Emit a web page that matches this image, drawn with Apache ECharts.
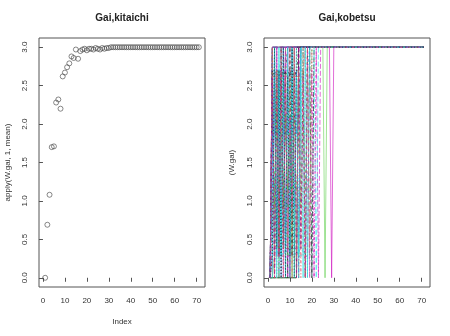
<!DOCTYPE html>
<html><head><meta charset="utf-8">
<script src="https://cdn.jsdelivr.net/npm/echarts@6/dist/echarts.min.js"></script>
<style>html,body{margin:0;padding:0;background:#fff}#c{width:450px;height:336px}</style>
</head><body><div id="c"></div><script>
// tick labels
const xTicks = [0, 10, 20, 30, 40, 50, 60, 70];
const yTicks = [0, 0.5, 1, 1.5, 2, 2.5, 3];
const lastRow = 71;

// left panel: apply(W.gai, 1, mean), rows 1..71
const meanValues = [
  0, 0.69, 1.08, 1.70, 1.71, 2.28, 2.32, 2.20, 2.62, 2.67,
  2.74, 2.79, 2.88, 2.86, 2.97, 2.85, 2.95, 2.97, 2.98, 2.96,
  2.98, 2.98, 2.97, 2.99, 2.98, 2.97, 2.99, 2.98, 2.99, 2.99,
  3, 3, 3, 3, 3, 3, 3, 3, 3, 3,
  3, 3, 3, 3, 3, 3, 3, 3, 3, 3,
  3, 3, 3, 3, 3, 3, 3, 3, 3, 3,
  3, 3, 3, 3, 3, 3, 3, 3, 3, 3,
  3
];

// right panel: matplot(W.gai) columns, values from row 1 until each column settles (it then stays there up to row 71)
const kobetsu = [
  [0,3],
  [0,2.7,0.28,3],
  [0,0.28,2.7,0.38,3],
  [0,1.12,2.1,0.9,2.62,3],
  [0,2.62,0.38,2.7,0,2.1,3],
  [0,0,2.7,0.28,2.62,0.9,1.88,3,3,0,3],
  [0,2.1,0.9,2.7,0.28,2.62,0.38,2.7,3],
  [0,0.9,2.7,1.12,2.1,0,2.7,0.28,2.62,3],
  [0,0,0,0,0,0,0,0,0,0,3],
  [0,1.88,1.12,2.1,0.9,1.88,1.12,2.1,0.9,2.7,0.28,3],
  [0,0.28,2.62,0.38,2.7,0.28,2.62,0.38,2.7,0.28,2.62,0.38,3],
  [0,3,3,3,0,3,3,0,3],
  [0,2.62,2.7,2.62,2.7,2.62,2.7,2.62,2.7,2.62,2.7,2.62,2.7,0.28,3],
  [0,1.12,1.12,1.12,1.12,1.12,1.12,1.12,1.12,1.12,1.12,1.12,1.12,1.12,1.12,1.12,1.12,1.12,3],
  [0,0,0,0,0,0,0,0,0,0,0,0,0,0,3],
  [0,2.1,1.88,2.1,1.88,2.1,1.88,2.1,1.88,2.1,1.88,2.1,1.88,2.1,3],
  [0,0.38,0.28,0.38,0.28,0.38,0.28,0.38,0.28,0.38,0.28,0.38,0.28,0.38,0.28,0.38,0.28,0.28,3],
  [0,3,0,3,0.28,2.7,0.38,2.62,3,3,3,3,3,3,3,3,3,0,3,3,0,3],
  [0,2.7,2.62,2.7,2.62,2.7,2.62,2.7,2.62,2.7,2.62,2.7,2.62,3],
  [0,0.9,0.9,0.9,0.9,0.9,0.9,0.9,0.9,0.9,3],
  [0,0,0.28,2.7,0.38,2.62,0.9,2.1,1.12,1.88,0,3,3,3,3,3,3,3,3,3,3,3,3,3,3,0,3],
  [0,1.88,1.88,1.88,1.88,1.88,1.88,1.88,1.88,1.88,1.88,1.88,1.88,1.88,3],
  [0,3,0,3,0,3,0,3,0,3,3,3,3,3,3,3,0,3,3,0,3],
  [0,0.38,0.38,0.38,0.38,0.38,0.38,0.38,0.38,0.38,0.38,0.38,0.38,0.38,3],
  [0,3,3,3,3,3,3,3,3,3,3,3,3,3,3,3,3,3,3,0,3],
  [0,2.62,2.62,2.62,2.62,2.62,2.62,2.62,2.62,2.62,2.62,2.62,2.62,2.62,2.62,2.62,3],
  [0,1.12,0.9,2.1,1.12,1.88,0.9,2.1,1.12,1.88,0.9,2.1,1.12,1.88,0.9,2.1,1.12,3],
  [0,3,3,3,3,3,3,3,3,3,3,3,3,3,3,3,0,3],
  [0,2.1,2.1,2.1,2.1,2.1,2.1,2.1,2.1,2.1,2.1,2.1,2.1,2.1,2.1,3],
  [0,3,3,3,3,3,3,3,3,3,3,3,3,3,3,3,3,3,3,3,3,3,0,3],
  [0,0,0,0,0,0,0,0,0,0,0,0,0,3],
  [0,0.28,0.28,0.28,0.28,0.28,0.28,0.28,0.28,0.28,0.28,0.28,0.28,0.28,0.28,0.28,0.28,0.28,3],
  [0,3,3,3,3,3,3,3,3,3,3,3,3,3,3,3,3,3,0,3],
  [0,2.7,2.7,2.7,2.7,2.7,2.7,2.7,2.7,2.7,2.7,2.7,2.7,2.7,2.7,2.7,2.7,2.7,3],
  [0,3,3,3,3,3,3,3,3,3,3,3,3,3,3,3,3,3,3,3,3,0,3],
  [0,3,3,3,3,3,3,3,3,3,3,3,3,3,3,3,3,3,3,3,3,3,3,3,3,3,3,3,0,3],
  [0,2.7,0,2.62,0.28,3,0.38,2.7,0,3,0.28,2.62,0,3,0.38,2.7,0,3],
  [0,0.38,3,0,2.7,0.28,3,0.9,2.62,0,3,1.12,2.7,0,3,0.28,3],
  [0,3,0.9,2.7,0,2.1,0.38,3,0.28,2.62,1.12,3,0,2.7,0.9,3,0,2.62,0.28,3],
  [0,1.12,3,0.28,2.7,0,3,0.38,2.62,0,3,0.9,2.7,0,3],
  [0,0,3,0,3,0.28,2.7,0,3,0.38,3,0,2.62,0.28,3,0,3,0,3],
  [0,2.62,0,3,0.28,2.7,0,3,0,2.1,0.9,3,0,3,0.38,2.62,0,3,0,2.7,0,3],
  [0,0.28,3,0.38,2.7,0,3,0,2.62,0.28,3,0,3],
  [0,3,0,2.7,0.28,3,0,2.62,0.38,3,0,3,0.28,2.7,0,3,0,3,0.38,3]
];

const titles = ['Gai,kitaichi', 'Gai,kobetsu'];
const yNames = ['apply(W.gai, 1, mean)', '(W.gai)'];
const xName = 'Index';

// styles
const FONT = 'Liberation Sans, Arial, sans-serif';
const palette = ['#000000', '#DF536B', '#61D04F', '#2297E6', '#28E2E5', '#CD0BBC'];
const dashes = ['solid', [3, 3], [1, 2], [1, 2, 3, 2], [5, 2]];
const axisGray = '#555';

const chart = echarts.init(document.getElementById('c'), null, {renderer: 'canvas'});

const grids = [
  {left: 39, top: 38, width: 166, height: 249},
  {left: 264, top: 38, width: 166, height: 249}
].map(g => Object.assign(g, {show: true, borderColor: axisGray, borderWidth: 1, backgroundColor: 'transparent', containLabel: false}));

function xAx(i) {
  return {
    type: 'value', gridIndex: i, min: -1.8, max: 73.8,
    axisLine: {show: false}, splitLine: {show: false},
    axisTick: {show: true, length: 4, lineStyle: {color: axisGray}, customValues: xTicks},
    axisLabel: {customValues: xTicks, fontSize: 8, color: '#333', margin: 10, fontFamily: FONT}
  };
}
function yAx(i) {
  return {
    type: 'value', gridIndex: i, min: -0.12, max: 3.12,
    axisLine: {show: false}, splitLine: {show: false},
    axisTick: {show: true, length: 4, lineStyle: {color: axisGray}, customValues: yTicks},
    axisLabel: {customValues: yTicks, fontSize: 8, color: '#333', margin: 10, rotate: 90,
      fontFamily: FONT, formatter: v => Number(v).toFixed(1)}
  };
}

const series = [{
  type: 'scatter', xAxisIndex: 0, yAxisIndex: 0,
  data: meanValues.map((v, i) => [i + 1, v]),
  symbol: 'circle', symbolSize: 5,
  itemStyle: {color: 'rgba(0,0,0,0)', borderColor: '#444', borderWidth: 0.8},
  silent: true
}];
kobetsu.forEach((col, k) => {
  const pts = col.map((v, i) => [i + 1, v]);
  pts.push([lastRow, col[col.length - 1]]);
  series.push({
    type: 'line', xAxisIndex: 1, yAxisIndex: 1, data: pts,
    symbol: 'none', showSymbol: false, silent: true,
    lineStyle: {color: palette[k % 6], width: 1, type: dashes[k % 5], opacity: 0.6}
  });
});

const centers = grids.map(g => g.left + g.width / 2);
const midY = 38 + 249 / 2;
const graphic = [];
titles.forEach((t, i) => graphic.push({
  type: 'text', x: centers[i], y: 18,
  style: {text: t, font: 'bold 10px ' + FONT, fill: '#222', textAlign: 'center', textVerticalAlign: 'middle'}
}));
graphic.push({
  type: 'text', x: centers[0], y: 321.5,
  style: {text: xName, font: '8px ' + FONT, fill: '#333', textAlign: 'center', textVerticalAlign: 'middle'}
});
yNames.forEach((t, i) => graphic.push({
  type: 'text', x: [8, 232][i], y: midY, rotation: Math.PI / 2,
  style: {text: t, font: '8px ' + FONT, fill: '#333', textAlign: 'center', textVerticalAlign: 'middle'}
}));

chart.setOption({
  animation: false,
  backgroundColor: '#fff',
  grid: grids,
  xAxis: [xAx(0), xAx(1)],
  yAxis: [yAx(0), yAx(1)],
  series: series,
  graphic: graphic
});
</script></body></html>
